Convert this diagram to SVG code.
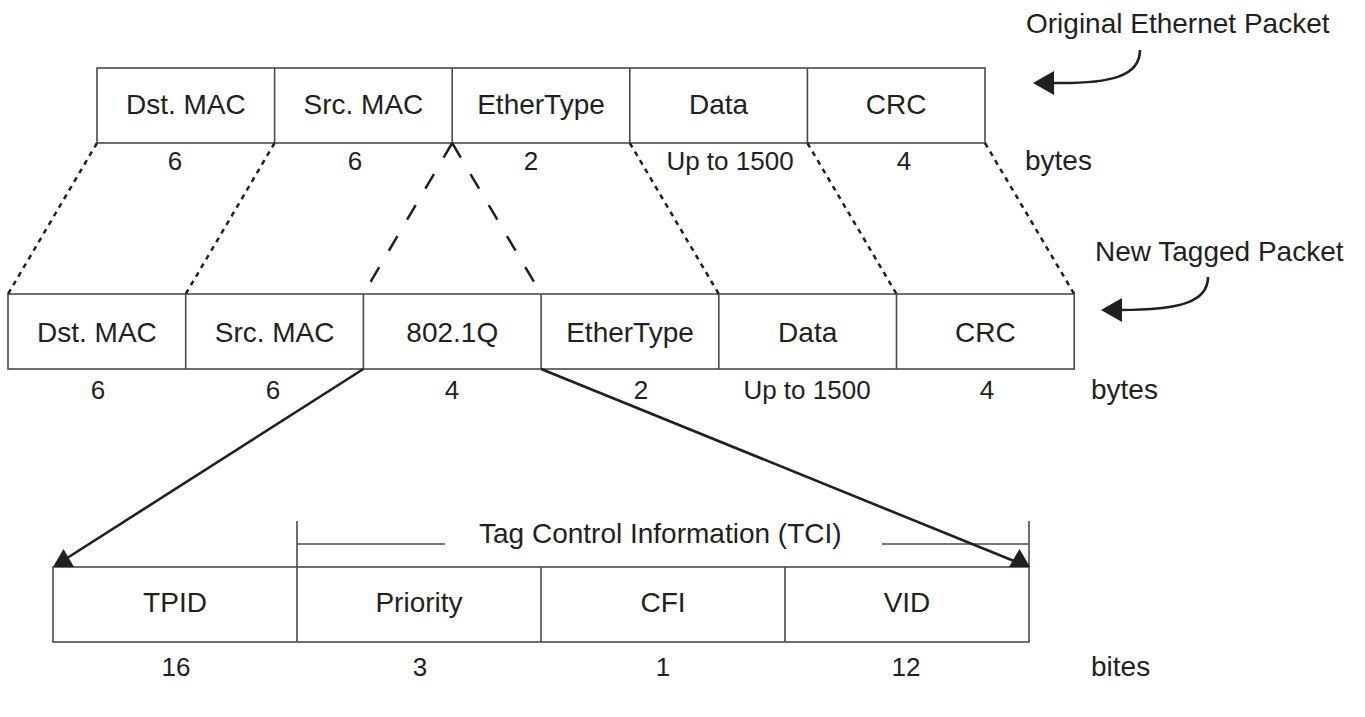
<svg xmlns="http://www.w3.org/2000/svg" width="1365" height="717" viewBox="0 0 1365 717">
<defs>
<style>
text{font-family:"Liberation Sans",Arial,sans-serif;fill:#231f20;}
.lbl{font-size:28px;text-anchor:middle;}
.num{font-size:26px;text-anchor:middle;}
.side{font-size:28px;}
.box{fill:none;stroke:#4d4a4b;stroke-width:1.6;}
.dot{fill:none;stroke:#231f20;stroke-width:2.5;stroke-dasharray:5 5;}
.dash{fill:none;stroke:#231f20;stroke-width:2.5;stroke-dasharray:17 19;}
.solid{fill:none;stroke:#231f20;stroke-width:2.6;}
.head{fill:#231f20;}
</style>
</defs>
<rect width="1365" height="717" fill="#ffffff"/>

<g id="original-packet">
<rect class="box" x="97" y="68" width="888" height="75"/>
<line class="box" x1="274.6" y1="68" x2="274.6" y2="143"/>
<line class="box" x1="452.2" y1="68" x2="452.2" y2="143"/>
<line class="box" x1="629.8" y1="68" x2="629.8" y2="143"/>
<line class="box" x1="807.4" y1="68" x2="807.4" y2="143"/>
<text class="lbl" x="185.8" y="114">Dst. MAC</text>
<text class="lbl" x="363.4" y="114">Src. MAC</text>
<text class="lbl" x="541" y="114">EtherType</text>
<text class="lbl" x="718.6" y="114">Data</text>
<text class="lbl" x="896.2" y="114">CRC</text>
<text class="num" x="175" y="170">6</text>
<text class="num" x="355" y="170">6</text>
<text class="num" x="531" y="170">2</text>
<text class="num" x="730" y="170">Up to 1500</text>
<text class="num" x="904" y="170">4</text>
<text class="side" x="1025" y="170">bytes</text>
</g>

<g id="tagged-packet">
<rect class="box" x="8" y="294" width="1066.2" height="75"/>
<line class="box" x1="185.7" y1="294" x2="185.7" y2="369"/>
<line class="box" x1="363.4" y1="294" x2="363.4" y2="369"/>
<line class="box" x1="541.1" y1="294" x2="541.1" y2="369"/>
<line class="box" x1="718.8" y1="294" x2="718.8" y2="369"/>
<line class="box" x1="896.5" y1="294" x2="896.5" y2="369"/>
<text class="lbl" x="96.9" y="342">Dst. MAC</text>
<text class="lbl" x="274.6" y="342">Src. MAC</text>
<text class="lbl" x="452.3" y="342">802.1Q</text>
<text class="lbl" x="630" y="342">EtherType</text>
<text class="lbl" x="807.7" y="342">Data</text>
<text class="lbl" x="985.4" y="342">CRC</text>
<text class="num" x="98" y="399">6</text>
<text class="num" x="273" y="399">6</text>
<text class="num" x="452" y="399">4</text>
<text class="num" x="641" y="399">2</text>
<text class="num" x="807" y="399">Up to 1500</text>
<text class="num" x="987" y="399">4</text>
<text class="side" x="1091" y="399">bytes</text>
</g>

<g id="tag-fields">
<rect class="box" x="53" y="567" width="976" height="75"/>
<line class="box" x1="297" y1="567" x2="297" y2="642"/>
<line class="box" x1="541" y1="567" x2="541" y2="642"/>
<line class="box" x1="785" y1="567" x2="785" y2="642"/>
<text class="lbl" x="175" y="612">TPID</text>
<text class="lbl" x="419" y="612">Priority</text>
<text class="lbl" x="663" y="612">CFI</text>
<text class="lbl" x="907" y="612">VID</text>
<text class="num" x="176" y="676">16</text>
<text class="num" x="420" y="676">3</text>
<text class="num" x="663" y="676">1</text>
<text class="num" x="906" y="676">12</text>
<text class="side" x="1091" y="676">bites</text>
</g>

<g id="tci-bracket">
<line class="box" x1="297" y1="521" x2="297" y2="567"/>
<line class="box" x1="1029" y1="521" x2="1029" y2="567"/>
<line class="box" x1="297" y1="544" x2="445" y2="544"/>
<line class="box" x1="882" y1="544" x2="1029" y2="544"/>
<text class="side" x="479" y="543">Tag Control Information (TCI)</text>
</g>

<g id="title-original">
<text class="side" x="1026" y="33">Original Ethernet Packet</text>
<path class="solid" d="M1140,50 C1140,76 1112,84 1052,83"/>
<polygon class="head" points="1033,83 1054,71 1054,95"/>
</g>

<g id="title-tagged">
<text class="side" x="1095" y="261">New Tagged Packet</text>
<path class="solid" d="M1208,277 C1208,302 1180,310 1120,310"/>
<polygon class="head" points="1101,310 1122,298 1122,322"/>
</g>

<g id="connectors">
<line class="dot" x1="97" y1="143" x2="8" y2="294"/>
<line class="dot" x1="274.6" y1="143" x2="185.7" y2="294"/>
<line class="dot" x1="629.8" y1="143" x2="718.8" y2="294"/>
<line class="dot" x1="807.4" y1="143" x2="896.5" y2="294"/>
<line class="dot" x1="985" y1="143" x2="1074.2" y2="294"/>
<line class="dash" x1="452.2" y1="143" x2="363.4" y2="294"/>
<line class="dash" x1="452.2" y1="143" x2="541.1" y2="294"/>
<line class="solid" x1="363.4" y1="369" x2="64" y2="560"/>
<polygon class="head" points="53,567 63.5,549 74,567"/>
<line class="solid" x1="541.1" y1="369" x2="1014" y2="561"/>
<polygon class="head" points="1009,567 1019.5,549 1030,567"/>
</g>
</svg>
